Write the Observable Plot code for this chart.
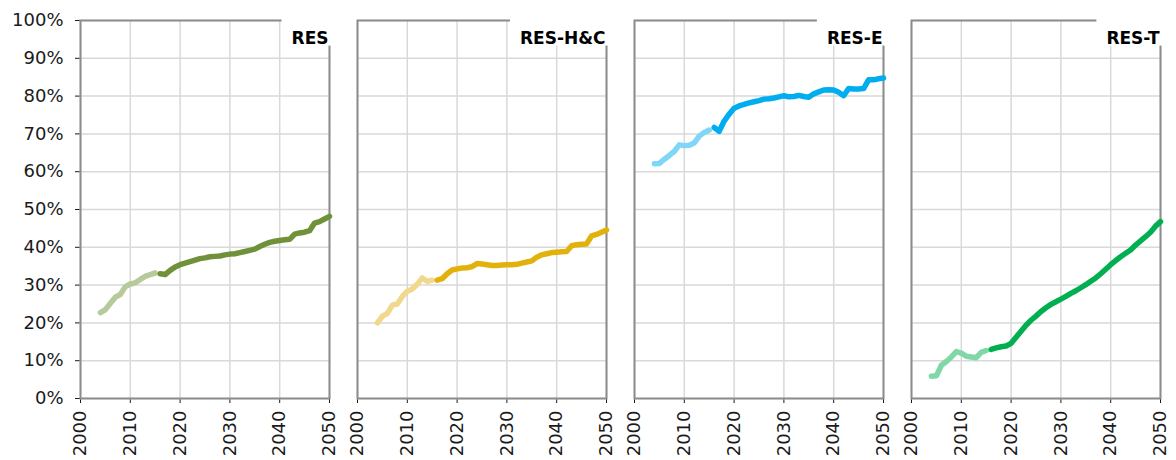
<!DOCTYPE html>
<html><head><meta charset="utf-8">
<script src="https://cdn.jsdelivr.net/npm/d3@7"></script>
<script src="https://cdn.jsdelivr.net/npm/@observablehq/plot@0.6"></script>
<style>
html,body{margin:0;padding:0;background:#fff;}
#chart svg g[aria-label="x-axis tick"], #chart svg g[aria-label="y-axis tick"] { stroke:#8c8c8c; }
</style></head><body><div id="chart"></div>
<script>
const panels = ["RES", "RES-H&C", "RES-E", "RES-T"];
const histYears = d3.range(2004, 2016);
const projYears = d3.range(2016, 2051);

const resHist = [22.7, 23.5, 25.2, 26.8, 27.5, 29.6, 30.3, 30.6, 31.5, 32.3, 32.8, 33.2];
const resProj = [33.0, 32.8, 33.9, 34.8, 35.4, 35.8, 36.2, 36.6, 37.0, 37.2, 37.5, 37.6, 37.7, 38.0, 38.2,
  38.3, 38.6, 38.9, 39.2, 39.5, 40.2, 40.8, 41.3, 41.6, 41.8, 42.0, 42.1, 43.5, 43.8, 44.0, 44.4, 46.4, 46.8, 47.5, 48.2];

const hcHist = [20.0, 21.8, 22.5, 24.7, 25.0, 27.0, 28.4, 29.0, 30.2, 31.9, 31.0, 31.3];
const hcProj = [31.3, 31.7, 33.0, 34.0, 34.3, 34.5, 34.6, 34.9, 35.7, 35.6, 35.4, 35.2, 35.2, 35.3, 35.4,
  35.4, 35.5, 35.8, 36.1, 36.4, 37.4, 38.0, 38.3, 38.6, 38.7, 38.8, 38.9, 40.4, 40.7, 40.8, 40.9, 43.0, 43.4, 44.0, 44.6];

const eHist = [62.1, 62.2, 63.3, 64.3, 65.4, 67.1, 66.9, 67.0, 67.6, 69.4, 70.4, 71.0];
const eProj = [71.7, 70.7, 73.4, 75.2, 76.8, 77.4, 77.8, 78.2, 78.5, 78.8, 79.2, 79.3, 79.5, 79.8, 80.1,
  79.8, 79.9, 80.2, 79.9, 79.7, 80.6, 81.1, 81.6, 81.7, 81.6, 81.0, 80.1, 82.0, 81.9, 81.9, 82.0, 84.3, 84.3, 84.6, 84.8];

const tHist = [5.9, 6.0, 8.8, 9.8, 11.0, 12.4, 12.0, 11.2, 11.0, 10.8, 12.2, 12.7];
const tProj = [13.0, 13.4, 13.7, 13.9, 14.6, 16.2, 17.8, 19.4, 20.7, 21.8, 23.0, 24.0, 24.9, 25.6, 26.3,
  27.0, 27.8, 28.5, 29.3, 30.1, 31.0, 31.9, 33.0, 34.2, 35.4, 36.5, 37.5, 38.4, 39.3, 40.6, 41.7, 42.8, 44.0, 45.6, 46.8];

const darkColors = ["#6f9139", "#e2b20c", "#00aeef", "#00b050"];
const lightColors = ["#b7ca9b", "#f0d98c", "#80d6f7", "#80d8a7"];

const xTicks = [2000, 2010, 2020, 2030, 2040, 2050];
const yTicks = [0, 10, 20, 30, 40, 50, 60, 70, 80, 90, 100];

const histSeries = [resHist, hcHist, eHist, tHist];
const projSeries = [resProj, hcProj, eProj, tProj];

const rows = [];
panels.forEach((p, i) => {
  histYears.forEach((yr, j) => rows.push({panel: p, year: yr, value: histSeries[i][j], kind: "hist", color: lightColors[i]}));
  projYears.forEach((yr, j) => rows.push({panel: p, year: yr, value: projSeries[i][j], kind: "proj", color: darkColors[i]}));
});

const chart = Plot.plot({
  width: 1176,
  height: 460,
  marginTop: 20,
  marginBottom: 62,
  marginLeft: 80,
  marginRight: 15,
  style: {fontFamily: "DejaVu Sans", fontSize: "18px", color: "#1a1a1a", background: "#fff"},
  fx: {domain: panels, paddingInner: 0.1, paddingOuter: 0, axis: null, label: null},
  x: {domain: [2000, 2050], ticks: xTicks, tickFormat: d => String(d), tickRotate: -90, tickSize: 5, tickPadding: 7, label: null},
  y: {domain: [0, 100], ticks: yTicks, tickFormat: d => d + "%", tickSize: 5, tickPadding: 12, label: null},
  marks: [
    Plot.ruleX(xTicks, {x: d => d, stroke: "#d9d9d9", strokeWidth: 1.5}),
    Plot.ruleY(yTicks, {y: d => d, stroke: "#d9d9d9", strokeWidth: 1.5}),
    Plot.frame({stroke: "#8c8c8c", strokeWidth: 2}),
    Plot.line(rows, {fx: "panel", x: "year", y: "value", z: "kind", stroke: "color",
      strokeWidth: 5.5, strokeLinecap: "round", strokeLinejoin: "round"}),
    Plot.text(panels, {fx: d => d, text: d => d, frameAnchor: "top-right", textAnchor: "end",
      dx: -1, dy: 11, fontWeight: "bold", fontSize: 17, fill: "#000"})
  ]
});

document.getElementById("chart").append(chart);

// white label boxes behind the panel titles (covering the frame corner)
const svgBox = chart.getBoundingClientRect();
chart.querySelectorAll('g[aria-label="text"] text').forEach(t => {
  const parent = t.parentNode;
  const ctm = parent.getCTM();
  const r = t.getBoundingClientRect();
  const ax0 = r.left - svgBox.left - 10;
  const ax1 = r.right - svgBox.left + 6;
  const ay0 = r.top - svgBox.top - 9;
  const ay1 = r.bottom - svgBox.top - 2;
  const rect = document.createElementNS("http://www.w3.org/2000/svg", "rect");
  rect.setAttribute("x", ax0 - ctm.e);
  rect.setAttribute("y", ay0 - ctm.f);
  rect.setAttribute("width", ax1 - ax0);
  rect.setAttribute("height", ay1 - ay0);
  rect.setAttribute("fill", "#fff");
  rect.setAttribute("stroke", "none");
  parent.insertBefore(rect, t);
});
</script></body></html>
